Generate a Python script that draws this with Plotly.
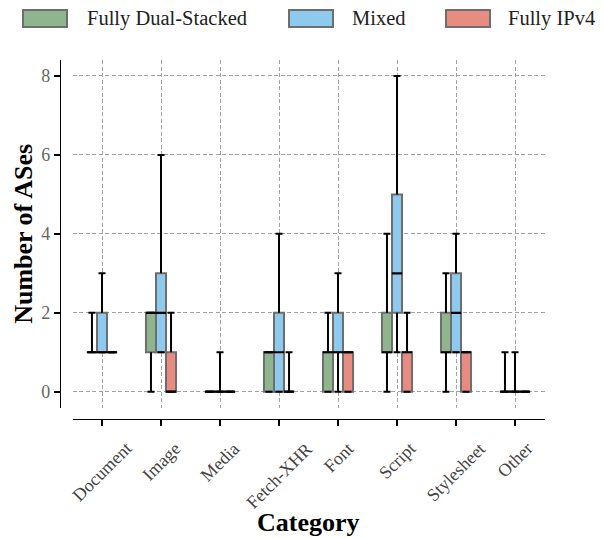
import plotly.graph_objects as go

# ---- data -------------------------------------------------------------
categories = ["Document", "Image", "Media", "Fetch-XHR", "Font",
              "Script", "Stylesheet", "Other"]
series_names = ["Fully Dual-Stacked", "Mixed", "Fully IPv4"]

# five-number summaries per category (min, q1, median, q3, max)
dual_min = [1, 0, 0, 0, 0, 0, 0, 0]
dual_q1 = [1, 1, 0, 0, 0, 1, 1, 0]
dual_med = [1, 2, 0, 1, 1, 1, 1, 0]
dual_q3 = [1, 2, 0, 1, 1, 2, 2, 0]
dual_max = [2, 2, 0, 1, 2, 4, 3, 1]

mixed_min = [1, 1, 0, 0, 0, 1, 1, 0]
mixed_q1 = [1, 1, 0, 0, 1, 2, 1, 0]
mixed_med = [1, 2, 0, 1, 1, 3, 2, 0]
mixed_q3 = [2, 3, 0, 2, 2, 5, 3, 0]
mixed_max = [3, 6, 1, 4, 3, 8, 4, 1]

ipv4_min = [1, 0, 0, 0, 0, 0, 0, 0]
ipv4_q1 = [1, 0, 0, 0, 0, 0, 0, 0]
ipv4_med = [1, 0, 0, 0, 1, 1, 1, 0]
ipv4_q3 = [1, 1, 0, 0, 1, 1, 1, 0]
ipv4_max = [1, 2, 0, 1, 1, 2, 1, 0]

y_ticks = [0, 2, 4, 6, 8]

# ---- styling ----------------------------------------------------------
W, H = 604, 538
FONT = "Liberation Serif"
COLORS = ["#8fb58e", "#8ecaed", "#e88b80"]
EDGE = "#6e6e6e"
BOX_W = 0.17
OFFSETS = [-BOX_W, 0.0, BOX_W]

def px_x(p):
    return p / W

def px_y(p):
    return 1 - p / H

# plot area and offset spines (pixels)
PLOT_L, PLOT_R, PLOT_T, PLOT_B = 72.5, 544.5, 60.2, 407.5
YSPINE_X = 60
XSPINE_Y = 419

series = [
    (dual_min, dual_q1, dual_med, dual_q3, dual_max),
    (mixed_min, mixed_q1, mixed_med, mixed_q3, mixed_max),
    (ipv4_min, ipv4_q1, ipv4_med, ipv4_q3, ipv4_max),
]

fig = go.Figure()

for k, (name, (mn, q1, med, q3, mx)) in enumerate(zip(series_names, series)):
    xs = [i + OFFSETS[k] for i in range(len(categories))]
    # boxes (interquartile range)
    fig.add_trace(go.Bar(
        x=xs, base=q1, y=[b - a for a, b in zip(q1, q3)], width=BOX_W,
        marker=dict(color=COLORS[k], line=dict(color=EDGE, width=2)),
        name=name, showlegend=False, hoverinfo="skip",
    ))
    # whiskers
    wx, wy = [], []
    for x, lo, a, b, hi in zip(xs, mn, q1, q3, mx):
        if hi > b:
            wx += [x, x, None]
            wy += [b, hi, None]
        if lo < a:
            wx += [x, x, None]
            wy += [a, lo, None]
    fig.add_trace(go.Scatter(
        x=wx, y=wy, mode="lines", line=dict(color="black", width=2),
        showlegend=False, hoverinfo="skip",
    ))
    # whisker caps
    fig.add_trace(go.Scatter(
        x=xs + xs, y=mn + mx, mode="markers",
        marker=dict(symbol="line-ew", size=5,
                    line=dict(color="black", width=2)),
        showlegend=False, hoverinfo="skip",
    ))
    # medians
    fig.add_trace(go.Scatter(
        x=xs, y=med, mode="markers",
        marker=dict(symbol="line-ew", size=7.3,
                    line=dict(color="black", width=2.2)),
        showlegend=False, hoverinfo="skip",
    ))

x_dom = [px_x(PLOT_L), px_x(PLOT_R)]
y_dom = [px_y(PLOT_B), px_y(PLOT_T)]
x_range = [-0.5, len(categories) - 0.5]
y_range = [-0.4, 8.4]
x_ticks = list(range(len(categories)))

grid = dict(showgrid=True, gridcolor="#a3a3a3", gridwidth=1,
            griddash="4px,2.5px")

fig.update_layout(
    width=W, height=H,
    margin=dict(l=0, r=0, t=0, b=0),
    paper_bgcolor="white", plot_bgcolor="white",
    barmode="overlay", showlegend=False,
    xaxis=dict(
        domain=x_dom, range=x_range, anchor="free", position=px_y(XSPINE_Y),
        tickmode="array", tickvals=x_ticks, showticklabels=False,
        ticks="outside", ticklen=6, tickwidth=1.6, tickcolor="black",
        showline=True, linecolor="black", linewidth=1.3,
        zeroline=False, automargin=False,
        **grid,
    ),
    yaxis=dict(
        domain=y_dom, range=y_range, anchor="free", position=px_x(YSPINE_X),
        tickmode="array", tickvals=y_ticks,
        ticks="outside", ticklen=6, tickwidth=1.6, tickcolor="black",
        showline=True, linecolor="black", linewidth=1.3,
        zeroline=False, automargin=False,
        tickfont=dict(family=FONT, size=18, color="#666666"),
        **grid,
    ),
    # inner halves of the ticks, which cross the spines
    xaxis2=dict(
        domain=x_dom, range=x_range, overlaying="x", anchor="free",
        position=px_y(XSPINE_Y), tickmode="array", tickvals=x_ticks,
        ticks="inside", ticklen=6, tickwidth=1.6, tickcolor="black",
        showticklabels=False, showgrid=False, showline=False, zeroline=False,
    ),
    yaxis2=dict(
        domain=y_dom, range=y_range, overlaying="y", anchor="free",
        position=px_x(YSPINE_X), tickmode="array", tickvals=y_ticks,
        ticks="inside", ticklen=6, tickwidth=1.6, tickcolor="black",
        showticklabels=False, showgrid=False, showline=False, zeroline=False,
    ),
)

# category labels, rotated and centred under their ticks
for i, cat in enumerate(categories):
    fig.add_annotation(
        text=cat, xref="x", yref="paper", x=i, y=px_y(436),
        xanchor="center", yanchor="top", textangle=-45, showarrow=False,
        font=dict(family=FONT, size=18, color="#444444"),
    )

# axis titles
fig.add_annotation(
    text="<b>Number of ASes</b>", xref="paper", yref="paper",
    x=px_x(24), y=px_y((PLOT_T + PLOT_B) / 2), textangle=-90,
    xanchor="center", yanchor="middle",
    showarrow=False, font=dict(family=FONT, size=26, color="black"),
)
fig.add_annotation(
    text="<b>Category</b>", xref="paper", yref="paper",
    x=px_x((PLOT_L + PLOT_R) / 2), y=px_y(522),
    xanchor="center", yanchor="middle",
    showarrow=False, font=dict(family=FONT, size=26, color="black"),
)

# legend row
legend_items = [(23, 85), (289, 350), (446, 506)]
for (patch_x, text_x), name, color in zip(legend_items, series_names, COLORS):
    fig.add_shape(
        type="rect", xref="paper", yref="paper",
        x0=px_x(patch_x), x1=px_x(patch_x + 44),
        y0=px_y(27), y1=px_y(10),
        fillcolor=color, line=dict(color=EDGE, width=2),
    )
    fig.add_annotation(
        text=name, xref="paper", yref="paper",
        x=px_x(text_x), y=px_y(18.5), xanchor="left", yanchor="middle",
        showarrow=False, font=dict(family=FONT, size=20.5, color="#222222"),
    )

fig.write_html("out.html")
